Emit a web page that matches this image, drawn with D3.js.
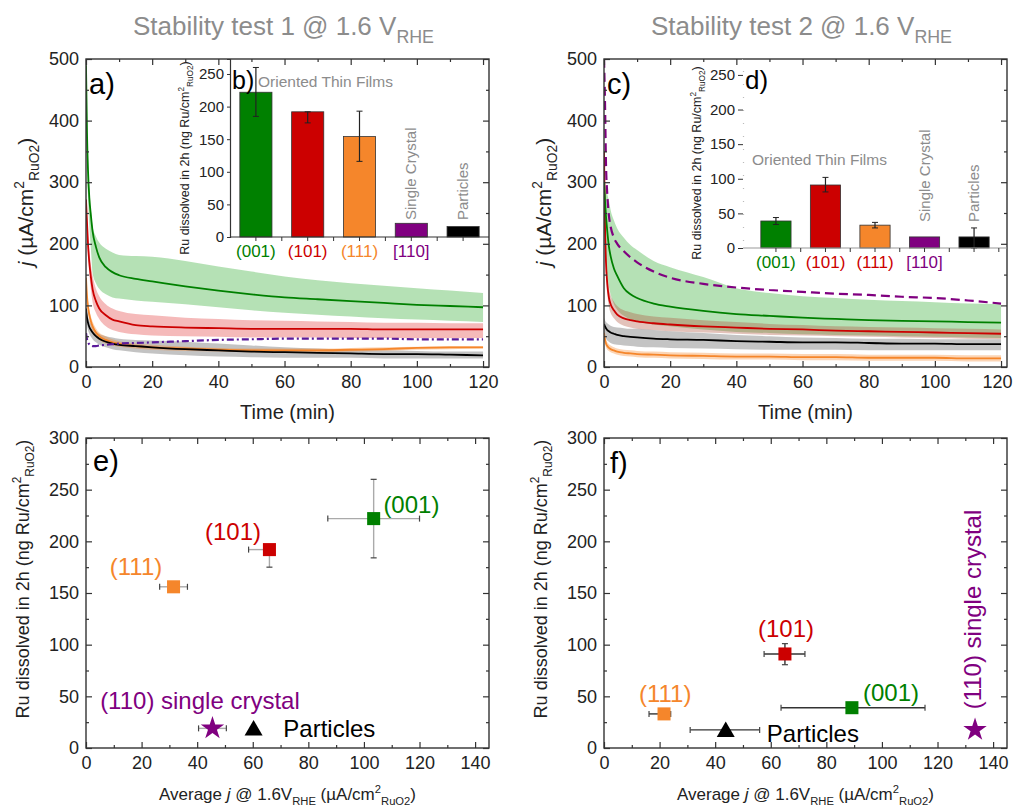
<!DOCTYPE html>
<html>
<head>
<meta charset="utf-8">
<script src="https://cdn.jsdelivr.net/npm/d3@7"></script>
<style>
body { margin: 0; background: #fff; }
svg { font-family: "Liberation Sans", Arial, sans-serif; }
</style>
</head>
<body>
<div id="wrapper"></div>
<script>
// 1. Data

const times = [0, 0.3, 0.6, 1, 1.5, 2, 3, 4, 6, 8, 10, 15, 20, 30, 40, 50, 60, 70, 80, 90, 100, 110, 120]

// stability test 1
const t1GreenMean  = [490, 380, 320, 275, 245, 220, 195, 178, 162, 154, 149, 143, 139, 131, 124, 118, 113, 110, 107, 104, 101, 99, 97]
const t1GreenUpper = [500, 420, 340, 290, 255, 228, 212, 202, 192, 186, 182, 180, 179, 172, 163, 155, 147, 141, 136, 132, 128, 124, 120]
const t1GreenLower = [470, 340, 280, 230, 190, 152, 136, 127, 118, 113, 111, 108, 106, 102, 97, 92, 88, 85, 82, 79, 77, 75, 73]
const t1RedMean  = [272, 235, 200, 170, 145, 126, 107, 95, 84, 77, 74, 68, 66, 64, 63, 62, 62, 62, 62, 61, 61, 61, 61]
const t1RedUpper = [275, 245, 215, 190, 165, 148, 127, 115, 102, 95, 91, 86, 84, 80, 78, 76, 75, 74, 73, 72, 72, 71, 71]
const t1RedLower = [265, 220, 185, 150, 125, 105, 88, 78, 66, 60, 57, 53, 51, 50, 49, 48, 48, 48, 47, 47, 47, 47, 47]
const t1OrangeMean  = [145, 115, 98, 85, 74, 66, 56, 50, 44, 40, 38, 34, 32, 30, 28, 27, 27, 27, 28, 29, 31, 32, 32]
const t1OrangeUpper = [150, 125, 108, 94, 82, 74, 63, 56, 50, 45, 42, 38, 36, 33, 31, 30, 30, 30, 31, 32, 33, 34, 34]
const t1OrangeLower = [135, 105, 88, 76, 66, 58, 49, 44, 38, 35, 33, 30, 28, 26, 25, 24, 24, 24, 25, 26, 28, 29, 30]
const t1BlackMean  = [95, 80, 72, 65, 60, 56, 50, 46, 41, 38, 36, 34, 32, 29, 27, 25, 24, 23, 22, 21, 21, 20, 19]
const t1BlackUpper = [100, 90, 82, 75, 70, 65, 58, 54, 50, 48, 46, 44, 43, 41, 38, 35, 32, 30, 28, 27, 26, 25, 25]
const t1BlackLower = [85, 68, 60, 54, 49, 45, 40, 36, 32, 29, 27, 24, 22, 19, 17, 16, 15, 15, 15, 14, 14, 14, 14]
const t1Purple = [55, 45, 40, 37, 35, 34, 34, 35, 36, 37, 38, 39, 40, 42, 44, 45, 46, 46, 46, 46, 45, 45, 45]

// stability test 2
const t2GreenMean  = [300, 270, 245, 220, 195, 180, 160, 148, 128, 118, 112, 103, 98, 91, 86, 83, 80, 78, 76, 75, 74, 73, 72]
const t2GreenUpper = [310, 300, 290, 280, 270, 255, 238, 225, 210, 198, 190, 172, 162, 146, 128, 120, 115, 112, 109, 107, 105, 103, 102]
const t2GreenLower = [250, 200, 170, 150, 130, 118, 102, 93, 83, 77, 74, 69, 66, 61, 57, 55, 53, 52, 51, 50, 49, 48, 47]
const t2RedMean  = [350, 230, 170, 135, 112, 102, 92, 85, 79, 76, 74, 71, 69, 66, 64, 62, 61, 59, 58, 57, 56, 55, 54]
const t2RedUpper = [355, 250, 190, 152, 128, 117, 106, 99, 92, 89, 86, 82, 80, 76, 73, 70, 68, 66, 65, 64, 63, 62, 61]
const t2RedLower = [330, 210, 150, 118, 97, 88, 79, 73, 67, 64, 62, 60, 58, 56, 54, 52, 51, 50, 49, 48, 47, 46, 45]
const t2OrangeMean  = [55, 45, 38, 34, 31, 29, 27, 25, 23, 22, 21, 20, 19, 18, 17, 17, 16, 16, 15, 15, 15, 14, 14]
const t2OrangeUpper = [62, 52, 44, 40, 37, 35, 32, 30, 28, 27, 26, 25, 24, 23, 22, 22, 21, 21, 20, 20, 20, 19, 19]
const t2OrangeLower = [45, 38, 32, 28, 26, 24, 22, 20, 18, 17, 16, 15, 14, 13, 12, 12, 11, 11, 10, 10, 10, 9, 9]
const t2BlackMean  = [70, 66, 63, 60, 58, 56, 54, 52, 50, 49, 48, 46, 45, 44, 42, 41, 40, 40, 39, 38, 38, 37, 37]
const t2BlackUpper = [80, 76, 73, 71, 69, 67, 65, 64, 63, 62, 62, 60, 58, 55, 52, 50, 48, 47, 46, 46, 45, 45, 45]
const t2BlackLower = [55, 50, 46, 43, 41, 39, 37, 36, 35, 34, 33, 32, 31, 30, 29, 28, 28, 28, 27, 27, 27, 27, 27]
const t2Purple = [500, 430, 330, 280, 245, 228, 210, 200, 188, 178, 170, 155, 145, 135, 129, 125, 122, 119, 117, 114, 112, 108, 103]

// inset bar charts
const barCategories = ["(001)", "(101)", "(111)", "[110]", "Particles"]
const bars1 = [222, 192, 154, 21, 16]
const bars1ErrLow = [185, 175, 116, null, null]
const bars1ErrHigh = [260, 192, 193, null, null]
const bars2 = [39, 91, 33, 16, 16]
const bars2ErrLow = [34, 81, 29, null, 0]
const bars2ErrHigh = [44, 102, 37, null, 29]

// scatter: Ru dissolved vs average current
const scatterNames = ["(001)", "(101)", "(111)", "(110) single crystal", "Particles"]
const scatter1X = [103.5, 66, 31.5, 45.5, 60.3]
const scatter1Y = [222, 192, 156, 19, 19]
const scatter1XErr = [[87, 120], [58.5, 66], [26.5, 36.5], [40.5, 50.5], null]
const scatter1YErr = [[184, 260], [175, 192], null, null, null]
const scatter2X = [89.2, 65.1, 21.6, 133.5, 43.8]
const scatter2Y = [39, 91, 33, 17.5, 17.5]
const scatter2XErr = [[63.7, 115.5], [57.6, 72.3], [16.2, 24], null, [31, 56]]
const scatter2YErr = [[36, 41], [80.6, 101], [28, 36], null, null]

const timeTicks = [0, 20, 40, 60, 80, 100, 120]
const currentTicks = [0, 100, 200, 300, 400, 500]
const avgTicks = [0, 20, 40, 60, 80, 100, 120, 140]
const ruTicks = [0, 50, 100, 150, 200, 250, 300]
const insetTicks = [0, 50, 100, 150, 200, 250]

// 2. Dimensions

const width = 1015
const height = 808
const panels = {
    a: { left: 86, top: 59, right: 489, bottom: 367 },
    c: { left: 604, top: 59, right: 1007, bottom: 367 },
    e: { left: 86, top: 438, right: 489, bottom: 748 },
    f: { left: 604, top: 438, right: 1007, bottom: 748 },
}

const colors = {
    green: "#008000", red: "#cc0000", orange: "#f5862b",
    purple: "#800080", black: "#000000", gray: "#8c8c8c",
}
const seriesColors = [colors.green, colors.red, colors.orange, colors.purple, colors.black]

// 3. Draw canvas

const svg = d3.select("#wrapper")
    .append("svg")
    .attr("width", width)
    .attr("height", height)

svg.append("rect").attr("width", width).attr("height", height).attr("fill", "#fff")

// text with sub/superscripts
function richText(sel, parts, fs) {
    let shift = 0
    parts.forEach(p => {
        const target = p.sup ? -0.42 * fs : p.sub ? 0.3 * fs : 0
        const ts = sel.append("tspan").text(p.t).attr("dy", target - shift)
        if (p.sup || p.sub) ts.attr("font-size", fs * 0.66)
        if (p.i) ts.attr("font-style", "italic")
        shift = target
    })
    return sel
}

function frame(box, x, y, xTicks, xMinor, yTicks, yMinor) {
    const g = svg.append("g")
    const ax = (gen, tx, ty) => {
        const a = g.append("g")
            .attr("transform", `translate(${tx},${ty})`)
            .call(gen)
        a.select(".domain").remove()
        a.selectAll("line").attr("stroke", "#333").attr("stroke-width", 1.2)
        a.selectAll("text").attr("font-size", 18).attr("fill", "#222")
            .attr("font-family", "Liberation Sans, Arial, sans-serif")
        return a
    }
    const bottom = ax(d3.axisBottom(x).tickValues(xTicks).tickSize(-6).tickPadding(8), 0, box.bottom)
    // keep the last label inside the page
    bottom.selectAll("text").filter(function () {
        return x(+this.textContent) + 16 > width
    }).attr("text-anchor", "end").attr("dx", width - 3 - x.range()[1] + 6)
    ax(d3.axisBottom(x).tickValues(xMinor).tickSize(-3).tickFormat(""), 0, box.bottom)
    ax(d3.axisTop(x).tickValues(xTicks).tickSize(-6).tickFormat(""), 0, box.top)
    ax(d3.axisTop(x).tickValues(xMinor).tickSize(-3).tickFormat(""), 0, box.top)
    ax(d3.axisLeft(y).tickValues(yTicks).tickSize(-6).tickPadding(7), box.left, 0)
    ax(d3.axisLeft(y).tickValues(yMinor).tickSize(-3).tickFormat(""), box.left, 0)
    ax(d3.axisRight(y).tickValues(yTicks).tickSize(-6).tickFormat(""), box.right, 0)
    ax(d3.axisRight(y).tickValues(yMinor).tickSize(-3).tickFormat(""), box.right, 0)
    g.append("rect")
        .attr("x", box.left).attr("y", box.top)
        .attr("width", box.right - box.left).attr("height", box.bottom - box.top)
        .attr("fill", "none").attr("stroke", "#333").attr("stroke-width", 1.4)
}

function panelLabel(text, x, y, fs) {
    svg.append("text").attr("x", x).attr("y", y)
        .attr("font-size", fs).attr("fill", "#000").text(text)
}

// 4. Time-series panels

function drawTimePanel(box, key, series, purple, title) {
    const x = d3.scaleLinear().domain([0, 121.8]).range([box.left, box.right])
    const y = d3.scaleLinear().domain([0, 500]).range([box.bottom, box.top])

    svg.append("clipPath").attr("id", "clip-" + key)
        .append("rect")
        .attr("x", box.left).attr("y", box.top)
        .attr("width", box.right - box.left).attr("height", box.bottom - box.top)
    const plot = svg.append("g").attr("clip-path", `url(#clip-${key})`)

    const area = d3.area()
        .x((d, i) => x(times[i]))
        .y0(d => y(d[0]))
        .y1(d => y(d[1]))
        .curve(d3.curveMonotoneX)
    const line = d3.line()
        .x((d, i) => x(times[i]))
        .y(d => y(d))
        .curve(d3.curveMonotoneX)

    series.forEach(s => {
        plot.append("path")
            .datum(s.lower.map((v, i) => [v, s.upper[i]]))
            .attr("d", area)
            .attr("fill", s.band)
            .attr("fill-opacity", s.bandOpacity)
    })
    series.slice().reverse().forEach(s => {
        plot.append("path")
            .datum(s.mean)
            .attr("d", line)
            .attr("fill", "none")
            .attr("stroke", s.color)
            .attr("stroke-width", 1.8)
    })
    plot.append("path")
        .datum(purple.values)
        .attr("d", line)
        .attr("fill", "none")
        .attr("stroke", purple.color)
        .attr("stroke-width", 2.2)
        .attr("stroke-dasharray", purple.dash)

    frame(box, x, y, timeTicks, d3.range(10, 121, 20), currentTicks, d3.range(50, 500, 100))

    const cx = (box.left + box.right) / 2
    svg.append("text").attr("x", cx).attr("y", 419)
        .attr("text-anchor", "middle").attr("font-size", 20).attr("fill", "#222")
        .text("Time (min)")

    const yl = svg.append("text")
        .attr("transform", `translate(${box.left - 53},202) rotate(-90)`)
        .attr("text-anchor", "middle").attr("font-size", 21).attr("fill", "#222")
    richText(yl, [{ t: "j", i: true }, { t: " (\u00b5A/cm" }, { t: "2", sup: true }, { t: "RuO2", sub: true }, { t: ")" }], 21)

    const tt = svg.append("text").attr("x", cx - 4).attr("y", 35)
        .attr("text-anchor", "middle").attr("font-size", 26).attr("fill", colors.gray)
    richText(tt, [{ t: title }, { t: "RHE", sub: true }], 27)

    return { x, y }
}

drawTimePanel(panels.a, "a", [
    { color: colors.green, band: "#0a9a0a", bandOpacity: 0.3, mean: t1GreenMean, upper: t1GreenUpper, lower: t1GreenLower },
    { color: colors.red, band: "#e23a3a", bandOpacity: 0.35, mean: t1RedMean, upper: t1RedUpper, lower: t1RedLower },
    { color: colors.black, band: "#7a7a7a", bandOpacity: 0.45, mean: t1BlackMean, upper: t1BlackUpper, lower: t1BlackLower },
    { color: colors.orange, band: "#f5862b", bandOpacity: 0.35, mean: t1OrangeMean, upper: t1OrangeUpper, lower: t1OrangeLower },
], { values: t1Purple, color: "#5a1a9a", dash: "7,3,2,3" }, "Stability test 1 @ 1.6 V")

drawTimePanel(panels.c, "c", [
    { color: colors.green, band: "#0a9a0a", bandOpacity: 0.3, mean: t2GreenMean, upper: t2GreenUpper, lower: t2GreenLower },
    { color: colors.red, band: "#b0503a", bandOpacity: 0.35, mean: t2RedMean, upper: t2RedUpper, lower: t2RedLower },
    { color: colors.black, band: "#8a8a8a", bandOpacity: 0.5, mean: t2BlackMean, upper: t2BlackUpper, lower: t2BlackLower },
    { color: colors.orange, band: "#f5862b", bandOpacity: 0.35, mean: t2OrangeMean, upper: t2OrangeUpper, lower: t2OrangeLower },
], { values: t2Purple, color: colors.purple, dash: "9,5" }, "Stability test 2 @ 1.6 V")

panelLabel("a)", 89, 94, 29)
panelLabel("c)", 607, 94, 29)

// 5. Inset bar charts

function drawInset(opts) {
    const x = d3.scaleBand().domain(barCategories)
        .range([opts.left, opts.right])
        .paddingInner(opts.padInner).paddingOuter(opts.padOuter)
    const y = d3.scaleLinear().domain([0, 273]).range([opts.bottom, 59])
    const g = svg.append("g")

    g.selectAll("rect.bar")
        .data(opts.values)
        .join("rect")
        .attr("class", "bar")
        .attr("x", (d, i) => x(barCategories[i]))
        .attr("y", d => y(d))
        .attr("width", x.bandwidth())
        .attr("height", d => y(0) - y(d))
        .attr("fill", (d, i) => seriesColors[i])
        .attr("stroke", "#333").attr("stroke-width", 0.8)

    opts.values.forEach((d, i) => {
        if (opts.errLow[i] == null) return
        const cx = x(barCategories[i]) + x.bandwidth() / 2
        g.append("line")
            .attr("x1", cx).attr("x2", cx)
            .attr("y1", y(opts.errLow[i])).attr("y2", y(opts.errHigh[i]))
            .attr("stroke", "#222").attr("stroke-width", 1.2)
        ;[opts.errLow[i], opts.errHigh[i]].forEach(v => {
            g.append("line")
                .attr("x1", cx - 3).attr("x2", cx + 3)
                .attr("y1", y(v)).attr("y2", y(v))
                .attr("stroke", "#222").attr("stroke-width", 1)
        })
    })

    // bottom axis
    g.append("line").attr("x1", opts.left).attr("x2", opts.right)
        .attr("y1", y(0)).attr("y2", y(0))
        .attr("stroke", opts.baseColor).attr("stroke-width", 1.2)
    const mids = barCategories.map(c => x(c) + x.bandwidth() / 2)
    const halfStep = x.step() / 2
    mids.concat(mids.map(m => m + halfStep)).forEach(m => {
        if (m > opts.right - 2) return
        g.append("line").attr("x1", m).attr("x2", m)
            .attr("y1", y(0)).attr("y2", y(0) + 4)
            .attr("stroke", "#333").attr("stroke-width", 1)
    })

    // left axis
    const ya = g.append("g")
        .attr("transform", `translate(${opts.left},0)`)
        .call(d3.axisLeft(y).tickValues(insetTicks).tickSize(opts.tickLen).tickPadding(3))
    ya.select(".domain").attr("stroke", opts.axisColor).attr("stroke-width", 1.2)
        .attr("stroke-dasharray", opts.axisDash)
    ya.selectAll("line").attr("stroke", "#333")
    ya.selectAll("text").attr("font-size", 15).attr("fill", "#222")
        .attr("font-family", "Liberation Sans, Arial, sans-serif")

    const yl = g.append("text")
        .attr("transform", `translate(${opts.yLabelX},${opts.yLabelY}) rotate(-90)`)
        .attr("text-anchor", "middle").attr("font-size", 12.5).attr("fill", "#222")
    richText(yl, [{ t: "Ru dissolved in 2h (ng Ru/cm" }, { t: "2", sup: true }, { t: "RuO2", sub: true }, { t: ")" }], 12.5)

    // category labels
    barCategories.slice(0, 4).forEach((c, i) => {
        g.append("text")
            .attr("x", mids[i]).attr("y", opts.catY)
            .attr("text-anchor", "middle").attr("font-size", 17)
            .attr("fill", opts.catColors[i]).text(c)
    })

    g.append("text").attr("x", opts.filmsX).attr("y", opts.filmsY)
        .attr("font-size", 15.5).attr("fill", colors.gray).text("Oriented Thin Films")
    ;[["Single Crystal", 3], ["Particles", 4]].forEach(([t, i]) => {
        g.append("text")
            .attr("transform", `translate(${mids[i] + 5},${opts.rotBottom}) rotate(-90)`)
            .attr("font-size", 15).attr("fill", colors.gray).text(t)
    })
    panelLabel(opts.label, opts.labelX, 89, opts.labelSize)
}

drawInset({
    left: 230, right: 489, bottom: 237, padInner: 0.38, padOuter: 0.19,
    values: bars1, errLow: bars1ErrLow, errHigh: bars1ErrHigh,
    baseColor: "#333", axisColor: "#333", axisDash: null, tickLen: 3,
    yLabelX: 189, yLabelY: 158, catY: 257,
    catColors: [colors.green, colors.red, colors.orange, colors.purple],
    filmsX: 258, filmsY: 87, rotBottom: 220,
    label: "b)", labelX: 232, labelSize: 25,
})

drawInset({
    left: 743, right: 1007, bottom: 248, padInner: 0.39, padOuter: 0.36,
    values: bars2, errLow: bars2ErrLow, errHigh: bars2ErrHigh,
    baseColor: "#999", axisColor: "#bbb", axisDash: "1,12", tickLen: 5,
    yLabelX: 701, yLabelY: 163, catY: 268,
    catColors: [colors.green, colors.red, colors.red, colors.purple],
    filmsX: 752, filmsY: 165, rotBottom: 222,
    label: "d)", labelX: 745, labelSize: 26,
})

// 6. Scatter panels

function drawScatter(box, xs, ys, xErr, yErr, errColor, labels) {
    const x = d3.scaleLinear().domain([0, 145]).range([box.left, box.right])
    const y = d3.scaleLinear().domain([0, 300]).range([box.bottom, box.top])
    const g = svg.append("g")

    xs.forEach((v, i) => {
        if (xErr[i]) {
            g.append("line")
                .attr("x1", x(xErr[i][0])).attr("x2", x(xErr[i][1]))
                .attr("y1", y(ys[i])).attr("y2", y(ys[i]))
                .attr("stroke", errColor).attr("stroke-width", 1.4)
            xErr[i].forEach(e => g.append("line")
                .attr("x1", x(e)).attr("x2", x(e))
                .attr("y1", y(ys[i]) - 3).attr("y2", y(ys[i]) + 3)
                .attr("stroke", "#444").attr("stroke-width", 1.2))
        }
        if (yErr[i]) {
            g.append("line")
                .attr("x1", x(v)).attr("x2", x(v))
                .attr("y1", y(yErr[i][0])).attr("y2", y(yErr[i][1]))
                .attr("stroke", errColor).attr("stroke-width", 1.4)
            yErr[i].forEach(e => g.append("line")
                .attr("x1", x(v) - 3).attr("x2", x(v) + 3)
                .attr("y1", y(e)).attr("y2", y(e))
                .attr("stroke", "#444").attr("stroke-width", 1.2))
        }
    })

    const shapes = [d3.symbolSquare, d3.symbolSquare, d3.symbolSquare, d3.symbolStar, d3.symbolTriangle]
    const sizes = [170, 170, 170, 170, 140]
    g.selectAll("path.marker")
        .data(xs)
        .join("path")
        .attr("class", "marker")
        .attr("transform", (d, i) => `translate(${x(d)},${y(ys[i]) + (i === 4 ? 2 : 0)})`)
        .attr("d", (d, i) => d3.symbol(shapes[i], sizes[i])())
        .attr("fill", (d, i) => seriesColors[i])

    labels.forEach((l, i) => {
        const t = g.append("text")
            .attr("font-size", 24)
            .attr("fill", seriesColors[i])
            .attr("text-anchor", l.anchor)
            .attr("dominant-baseline", "central")
            .text(scatterNames[i])
        if (l.rotate) t.attr("transform", `translate(${x(l.x)},${y(l.y)}) rotate(-90)`)
        else t.attr("x", x(l.x)).attr("y", y(l.y))
    })

    frame(box, x, y, avgTicks, d3.range(10, 145, 20), ruTicks, d3.range(25, 300, 50))

    const cx = (box.left + box.right) / 2
    const xl = svg.append("text").attr("x", cx).attr("y", 800)
        .attr("text-anchor", "middle").attr("font-size", 17).attr("fill", "#222")
    richText(xl, [{ t: "Average " }, { t: "j", i: true }, { t: " @ 1.6V" }, { t: "RHE", sub: true },
        { t: " (\u00b5A/cm" }, { t: "2", sup: true }, { t: "RuO2", sub: true }, { t: ")" }], 17)

    const yl = svg.append("text")
        .attr("transform", `translate(${box.left - 57},579) rotate(-90)`)
        .attr("text-anchor", "middle").attr("font-size", 18).attr("fill", "#222")
    richText(yl, [{ t: "Ru dissolved in 2h (ng Ru/cm" }, { t: "2", sup: true }, { t: "RuO2", sub: true }, { t: ")" }], 18)
}

drawScatter(panels.e, scatter1X, scatter1Y, scatter1XErr, scatter1YErr, "#aaa", [
    { x: 107, y: 236, anchor: "start" },
    { x: 52.9, y: 210, anchor: "middle" },
    { x: 18, y: 176, anchor: "middle" },
    { x: 41, y: 46, anchor: "middle" },
    { x: 71, y: 19, anchor: "start" },
])

drawScatter(panels.f, scatter2X, scatter2Y, scatter2XErr, scatter2YErr, "#333", [
    { x: 93.2, y: 54, anchor: "start" },
    { x: 65.5, y: 116, anchor: "middle" },
    { x: 22, y: 53, anchor: "middle" },
    { x: 132.6, y: 134, anchor: "middle", rotate: true },
    { x: 58.6, y: 14.5, anchor: "start" },
])

panelLabel("e)", 93, 471, 29)
panelLabel("f)", 610, 473, 29)
</script>
</body>
</html>
